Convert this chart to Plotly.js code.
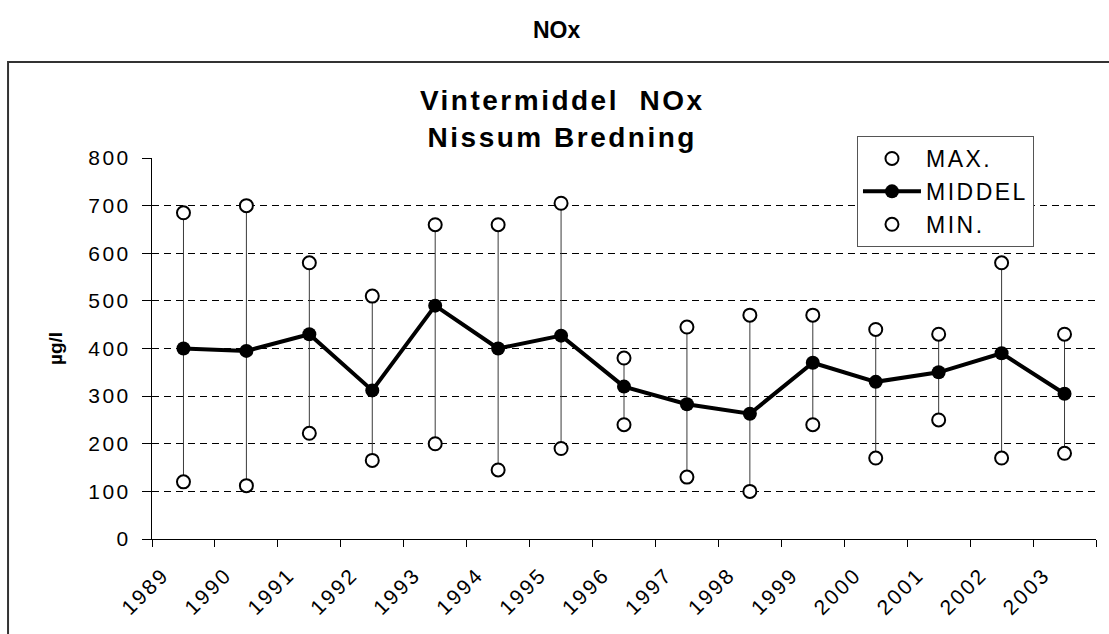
<!DOCTYPE html>
<html>
<head>
<meta charset="utf-8">
<script src="https://cdn.plot.ly/plotly-3.0.1.min.js"></script>
<style>
html, body { margin: 0; padding: 0; background: #fff; }
#chart { width: 1109px; height: 634px; }
.xtick text, .ytick text { letter-spacing: 2.5px; }
.legendtext { letter-spacing: 2.5px; }
.gtitle { letter-spacing: 2.5px; }
</style>
</head>
<body>
<div id="chart"></div>
<script>
// ---- data ----
const years       = [1989, 1990, 1991, 1992, 1993, 1994, 1995, 1996, 1997, 1998, 1999, 2000, 2001, 2002, 2003];
const tickLabels  = ["1989", "1990", "1991", "1992", "1993", "1994", "1995", "1996", "1997", "1998", "1999", "2000", "2001", "2002", "2003"];
const maxValues   = [685, 700, 580, 510, 660, 660, 705, 380, 445, 470, 470, 440, 430, 580, 430];
const meanValues  = [400, 395, 430, 312, 490, 400, 427, 320, 283, 263, 370, 330, 350, 390, 305];
const minValues   = [120, 112, 222, 165, 200, 145, 190, 240, 130, 100, 240, 170, 250, 170, 180];
const seriesNames = ["MAX.", "MIDDEL", "MIN."];

const FONT = "Liberation Sans, Arial, sans-serif";

// each year is drawn in the middle of its interval
const xPos = years.map(y => y + 0.5);
const tickVals = years.concat([years[years.length - 1] + 1]);
const tickText = tickLabels.concat([""]);

// vertical min-max range lines
const rx = [], ry = [];
years.forEach((y, i) => {
  rx.push(xPos[i], xPos[i], null);
  ry.push(maxValues[i], minValues[i], null);
});

const traces = [
  {
    x: rx, y: ry, mode: "lines", type: "scatter",
    line: { color: "#3a3a3a", width: 1 },
    showlegend: false, hoverinfo: "skip"
  },
  {
    x: xPos, y: maxValues, name: seriesNames[0], mode: "markers", type: "scatter",
    marker: { symbol: "circle", size: 13, color: "#ffffff", line: { color: "#000000", width: 2 } }
  },
  {
    x: xPos, y: meanValues, name: seriesNames[1], mode: "lines+markers", type: "scatter",
    line: { color: "#000000", width: 4 },
    marker: { symbol: "circle", size: 14, color: "#000000" }
  },
  {
    x: xPos, y: minValues, name: seriesNames[2], mode: "markers", type: "scatter",
    marker: { symbol: "circle", size: 13, color: "#ffffff", line: { color: "#000000", width: 2 } }
  }
];

const xr = [years[0], years[years.length - 1] + 1];

const layout = {
  width: 1109, height: 634,
  margin: { l: 152, r: 13, t: 158, b: 95 },
  paper_bgcolor: "#ffffff", plot_bgcolor: "rgba(0,0,0,0)",
  font: { family: FONT, color: "#000000" },
  title: {
    text: "Vintermiddel\u00a0 NOx<br>Nissum Bredning",
    font: { family: FONT, size: 28, weight: "bold", color: "#000000" },
    x: 0.507, xref: "container", xanchor: "center",
    y: 0.826, yref: "container", yanchor: "middle"
  },
  xaxis: {
    range: xr, tickmode: "array", tickvals: tickVals, ticktext: tickText,
    tickangle: -45, ticks: "outside", ticklen: 7, tickcolor: "#000000", tickwidth: 1,
    ticklabelshift: 11, ticklabelstandoff: 7,
    showline: true, linecolor: "#000000", linewidth: 1,
    showgrid: false, zeroline: false,
    tickfont: { family: FONT, size: 21, color: "#000000" },
    fixedrange: true
  },
  yaxis: {
    range: [0, 800], tickmode: "linear", tick0: 0, dtick: 100,
    ticks: "outside", ticklen: 9, tickcolor: "#000000", tickwidth: 1,
    showline: true, linecolor: "#000000", linewidth: 1,
    showgrid: true, gridcolor: "#000000", gridwidth: 1, griddash: "7px,5px",
    zeroline: false, ticklabelstandoff: 7,
    tickfont: { family: FONT, size: 21, color: "#000000" },
    title: { text: "µg/l", font: { family: FONT, size: 19, weight: "bold", color: "#000000" }, standoff: 20 },
    fixedrange: true
  },
  xaxis2: {
    overlaying: "x", anchor: "y", range: xr, tickmode: "array", tickvals: tickVals,
    ticks: "inside", ticklen: 7, tickcolor: "#000000", tickwidth: 1,
    showticklabels: false, showgrid: false, showline: false, zeroline: false, fixedrange: true
  },
  yaxis2: {
    overlaying: "y", anchor: "x", range: [0, 800], tickmode: "linear", tick0: 0, dtick: 100,
    ticks: "inside", ticklen: 5, tickcolor: "#000000", tickwidth: 1, side: "left",
    showticklabels: false, showgrid: false, showline: false, zeroline: false, fixedrange: true
  },
  legend: {
    x: 0.7468, y: 1.0577, xanchor: "left", yanchor: "top",
    bgcolor: "#ffffff", bordercolor: "#555555", borderwidth: 1,
    font: { family: FONT, size: 23, color: "#000000" },
    itemwidth: 58, tracegroupgap: 0
  },
  annotations: [
    {
      text: "NOx", xref: "paper", yref: "paper", x: 0.429, y: 1.336,
      xanchor: "center", yanchor: "middle", showarrow: false,
      font: { family: FONT, size: 23, weight: "bold", color: "#000000" }
    }
  ],
  shapes: [
    {
      type: "rect", xref: "paper", yref: "paper", layer: "below",
      x0: -0.1525, x1: 1.08, y0: -0.4, y1: 1.252,
      line: { color: "#333333", width: 2 }, fillcolor: "rgba(0,0,0,0)"
    }
  ],
  showlegend: true
};

Plotly.newPlot("chart", traces, layout, { displayModeBar: false, responsive: false });
</script>
</body>
</html>
